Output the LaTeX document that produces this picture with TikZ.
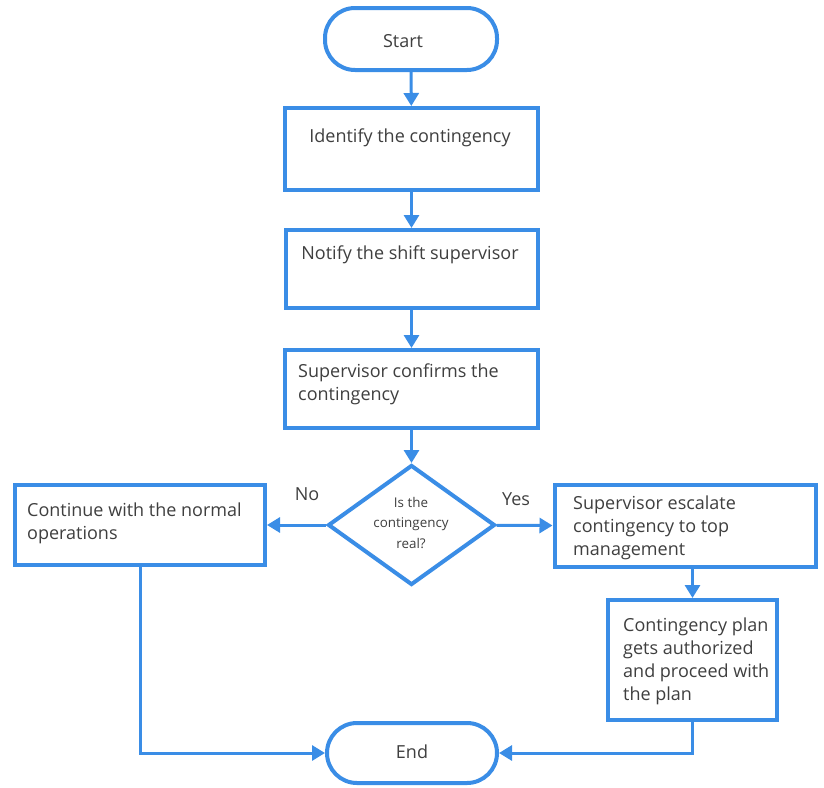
\documentclass[tikz,border=0pt]{standalone}
\usepackage{fontspec}
\setmainfont{Open Sans}
\usetikzlibrary{shapes.geometric,arrows.meta}
\definecolor{flowblue}{HTML}{3A8DE6}
\definecolor{flowtext}{HTML}{3F3F3F}
\tikzset{
  box/.style={draw=flowblue,line width=4pt,fill=white,inner sep=0pt},
  term/.style={box,rounded corners=30pt},
  txt/.style={text=flowtext,inner sep=0pt,font=\fontsize{18}{23}\selectfont},
  flow/.style={draw=flowblue,line width=3pt,-{Triangle[length=13pt,width=15pt]}}
}
\begin{document}
\begin{tikzpicture}[x=1pt,y=-1pt]
  \useasboundingbox (0,0) rectangle (824,787);
  % terminals
  \node[term,minimum width=172pt,minimum height=62pt] (start) at (411,39) {};
  \node[txt,anchor=base] (starttxt) at (403,47) {Start};
  \node[term,minimum width=170pt,minimum height=60pt] (end) at (412,753) {};
  \node[txt,anchor=base] (endtxt) at (412,758) {End};
  % main column
  \node[box,minimum width=253pt,minimum height=82pt] (ident) at (411.5,149) {};
  \node[txt,anchor=base] (identtxt) at (410,142) {Identify the contingency};
  \node[box,minimum width=252pt,minimum height=78pt] (notify) at (411.5,269) {};
  \node[txt,anchor=base] (notifytxt) at (410,259) {Notify the shift supervisor};
  \node[box,minimum width=253pt,minimum height=78pt] (confirm) at (411.5,389) {};
  \node[txt,anchor=base west,align=left] (confirmtxt) at (298,400)
    {Supervisor confirms the\\contingency};
  % decision
  \node[box,diamond,minimum width=167pt,minimum height=120pt] (real) at (411.5,525) {};
  \node[txt,anchor=base,align=center,font=\fontsize{13.4}{20.5}\selectfont] (realtxt) at (411,548)
    {Is the\\contingency\\real?};
  \node[txt,anchor=base] (no) at (307,500) {No};
  \node[txt,anchor=base] (yes) at (516,505) {Yes};
  % branches
  \node[box,minimum width=250pt,minimum height=80pt] (cont) at (140,525) {};
  \node[txt,anchor=base west,align=left] (conttxt) at (27,539)
    {Continue with the normal\\operations};
  \node[box,minimum width=261pt,minimum height=82pt] (esc) at (685,526) {};
  \node[txt,anchor=base west,align=left] (esctxt) at (573,555)
    {Supervisor escalate\\contingency to top\\management};
  \node[box,minimum width=169pt,minimum height=120pt] (plan) at (692.5,660) {};
  \node[txt,anchor=base west,align=left] (plantxt) at (623,700)
    {Contingency plan\\gets authorized\\and proceed with\\the plan};
  % connectors
  \draw[flow] (start) -- (ident);
  \draw[flow] (ident) -- (notify);
  \draw[flow] (notify) -- (confirm);
  \draw[flow] (confirm) -- (real);
  \draw[flow] (real) -- (cont);
  \draw[flow] (real) -- (esc);
  \draw[flow] (esc.south -| plan.north) -- (plan.north);
  \draw[flow] (cont.south) |- (end.west);
  \draw[flow] (plan.south) |- (end.east);
\end{tikzpicture}
\end{document}
